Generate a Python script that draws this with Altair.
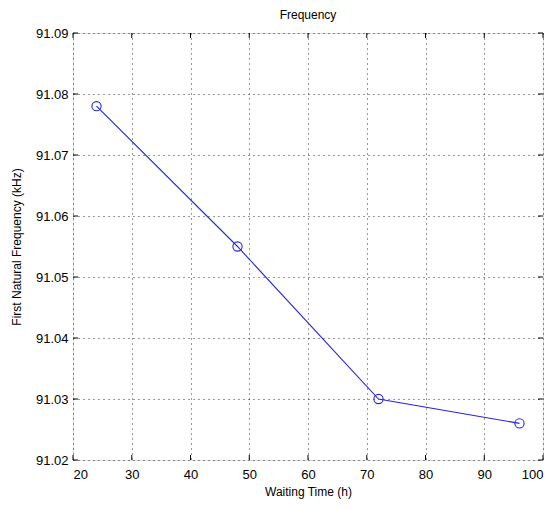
import altair as alt
import pandas as pd

waiting_time = [24, 48, 72, 96]
frequency = [91.078, 91.055, 91.030, 91.026]
x_ticks = [20, 30, 40, 50, 60, 70, 80, 90, 100]
y_ticks = [91.02, 91.03, 91.04, 91.05, 91.06, 91.07, 91.08, 91.09]

df = pd.DataFrame({"t": waiting_time, "f": frequency})
dx = pd.DataFrame({"v": x_ticks})
dy = pd.DataFrame({"v": y_ticks})

W, H = 470, 427
FONT = "Liberation Sans"
BLUE = "#2626d9"

xs = alt.Scale(domain=[20, 100], nice=False, zero=False)
ys = alt.Scale(domain=[91.02, 91.09], nice=False, zero=False)

xaxis = alt.Axis(values=x_ticks, grid=True, gridDash=[1, 4], gridColor="#000000",
                 gridOpacity=0.8, ticks=False, domain=False, labelFont=FONT,
                 labelFontSize=13, labelColor="#000000", labelPadding=8,
                 title="Waiting Time (h)", titleFont=FONT, titleFontSize=12,
                 titleFontWeight="normal", titleColor="#000000", titlePadding=5)
yaxis = alt.Axis(values=y_ticks, format=".2f", grid=True, gridDash=[1, 4],
                 gridColor="#000000", gridOpacity=0.8, ticks=False, domain=False,
                 labelFont=FONT, labelFontSize=13, labelColor="#000000", labelPadding=5,
                 title="First Natural Frequency (kHz)", titleFont=FONT, titleFontSize=12,
                 titleFontWeight="normal", titleColor="#000000", titlePadding=12)

line = alt.Chart(df).mark_line(color=BLUE, strokeWidth=1.1).encode(
    x=alt.X("t:Q", scale=xs, axis=xaxis),
    y=alt.Y("f:Q", scale=ys, axis=yaxis),
)
pts = alt.Chart(df).mark_point(shape="circle", filled=False, color=BLUE,
                               size=85, strokeWidth=1.1, opacity=1).encode(
    x=alt.X("t:Q", scale=xs), y=alt.Y("f:Q", scale=ys))

tk = 5
xb = alt.Chart(dx).mark_rule(color="#000000", strokeWidth=1).encode(
    x=alt.X("v:Q", scale=xs), y=alt.value(H), y2=alt.value(H - tk))
xt = alt.Chart(dx).mark_rule(color="#000000", strokeWidth=1).encode(
    x=alt.X("v:Q", scale=xs), y=alt.value(0), y2=alt.value(tk))
yl = alt.Chart(dy).mark_rule(color="#000000", strokeWidth=1).encode(
    y=alt.Y("v:Q", scale=ys), x=alt.value(0), x2=alt.value(tk))
yr = alt.Chart(dy).mark_rule(color="#000000", strokeWidth=1).encode(
    y=alt.Y("v:Q", scale=ys), x=alt.value(W), x2=alt.value(W - tk))

chart = alt.layer(line, pts, xb, xt, yl, yr).properties(
    width=W, height=H,
    title=alt.TitleParams("Frequency", font=FONT, fontSize=12, fontWeight="normal",
                          color="#000000", offset=5),
    autosize=alt.AutoSizeParams(type="none"),
    padding={"left": 65, "top": 25, "right": 4, "bottom": 40},
).configure_view(stroke="#000000", strokeWidth=1.2).configure(background="#ffffff")

chart.save("out.html", embed_options={"renderer": "svg", "actions": False})
